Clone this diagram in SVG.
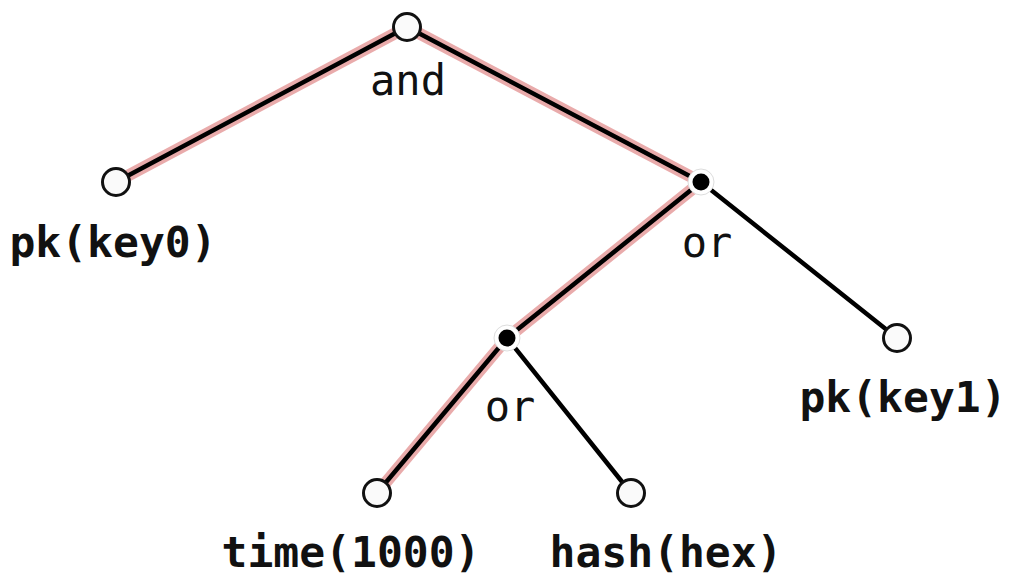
<svg xmlns="http://www.w3.org/2000/svg" width="1009" height="576" viewBox="0 0 1009 576">
<style>
.halo{stroke:#e7a2a2;stroke-width:12;stroke-linecap:round;fill:none;opacity:0.9}
.edge{stroke:#000;stroke-width:4.5;stroke-linecap:round;fill:none}
.leaf{fill:#fafafa;stroke:#111;stroke-width:3}
.ring{fill:#fff;stroke:#ddd;stroke-width:1}
.dot{fill:#000}
.op{font-family:"DejaVu Sans Mono","Liberation Mono",monospace;font-size:42px;fill:#111;text-anchor:middle}
.lbl{font-family:"DejaVu Sans Mono","Liberation Mono",monospace;font-size:43px;font-weight:bold;fill:#111;text-anchor:middle}
</style>
<rect width="1009" height="576" fill="#fff"/>
<g id="connectors">
<line class="halo" x1="407" y1="27" x2="116" y2="182"/>
<line class="halo" x1="407" y1="27" x2="701" y2="182"/>
<line class="halo" x1="701" y1="182" x2="507" y2="338"/>
<line class="halo" x1="507" y1="338" x2="377" y2="493"/>
<line class="edge" x1="407" y1="27" x2="116" y2="182"/>
<line class="edge" x1="407" y1="27" x2="701" y2="182"/>
<line class="edge" x1="701" y1="182" x2="507" y2="338"/>
<line class="edge" x1="507" y1="338" x2="377" y2="493"/>
<line class="edge" x1="701" y1="182" x2="897" y2="338"/>
<line class="edge" x1="507" y1="338" x2="631" y2="493"/>
</g>
<g id="root"><circle class="leaf" cx="407" cy="27" r="13.5"/><text class="op" x="408" y="95">and</text></g>
<g id="pk-key0"><circle class="leaf" cx="116" cy="182" r="13.5"/><text class="lbl" x="113" y="257">pk(key0)</text></g>
<g id="or1"><circle class="ring" cx="701" cy="182" r="13"/><circle class="dot" cx="701" cy="182" r="8.5"/><text class="op" x="707" y="257">or</text></g>
<g id="or2"><circle class="ring" cx="507" cy="338" r="13"/><circle class="dot" cx="507" cy="338" r="8.5"/><text class="op" x="510" y="421">or</text></g>
<g id="pk-key1"><circle class="leaf" cx="897" cy="338" r="13.5"/><text class="lbl" x="903" y="412">pk(key1)</text></g>
<g id="time"><circle class="leaf" cx="377" cy="493" r="13.5"/><text class="lbl" x="351" y="567">time(1000)</text></g>
<g id="hash"><circle class="leaf" cx="631" cy="493" r="13.5"/><text class="lbl" x="666" y="567">hash(hex)</text></g>
</svg>
